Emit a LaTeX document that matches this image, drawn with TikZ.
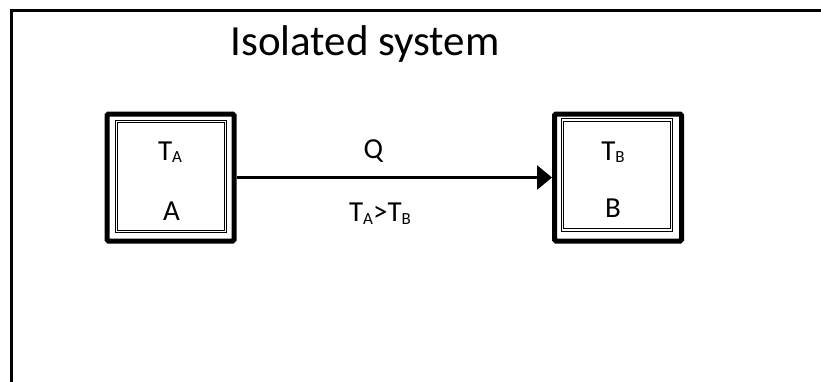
\documentclass[tikz,border=0pt]{standalone}
\usepackage{fontspec}
\setmainfont{Carlito}
\usetikzlibrary{arrows.meta}
\newcommand{\mysub}[1]{\raisebox{-0.09em}{\fontsize{17}{19}\selectfont #1}}
\tikzset{
  outerbox/.style={draw, line width=5pt, rounded corners=1.5pt, minimum width=127pt, minimum height=127pt, inner sep=0pt},
  innerbox/.style={draw, double, line width=0.9pt, double distance=1.3pt, minimum width=109pt, minimum height=110pt, inner sep=0pt},
  lbl/.style={font=\fontsize{29}{33}\selectfont, anchor=base, inner sep=0pt},
  flow/.style={line width=3pt, -{Triangle[length=15pt, width=24pt]}}
}
\begin{document}
\begin{tikzpicture}[x=1pt,y=-1pt]
\useasboundingbox (0,0) rectangle (821,381);
\clip (0,0) rectangle (821,381);
\draw[line width=3.5pt] (11.5,10.5) rectangle (840,400);
\node[font=\fontsize{43}{48}\selectfont, anchor=base, inner sep=0pt] (title) at (365,55) {Isolated system};
\node[outerbox] (A) at (170.5,177.5) {};
\node[innerbox] (Ain) at (171,176.2) {};
\node[outerbox] (B) at (618,177.5) {};
\node[innerbox] (Bin) at (617.3,175) {};
\node[lbl] (TA) at (170,160) {T\mysub{A}};
\node[lbl] (LA) at (171.5,220) {A};
\node[lbl] (TB) at (613,160) {T\mysub{B}};
\node[lbl] (LB) at (613,217) {B};
\draw[flow] (A.east) -- (B.west);
\node[lbl] (Q) at (373.5,158) {Q};
\node[lbl] (cond) at (380,221.5) {T\mysub{A}>T\mysub{B}};
\end{tikzpicture}
\end{document}
